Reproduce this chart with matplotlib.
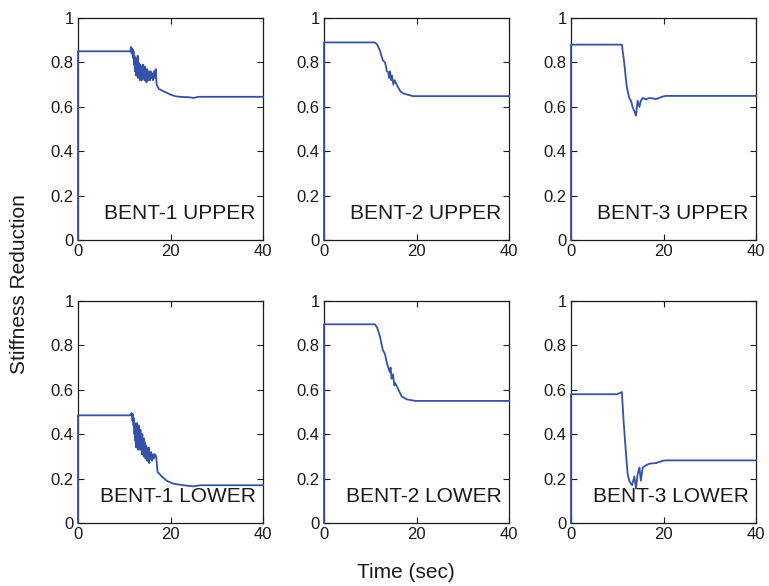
import matplotlib
matplotlib.use("Agg")
import matplotlib.pyplot as plt

plt.rcParams['font.family'] = ['Liberation Sans', 'DejaVu Sans']

# ---- data ----
t_b1u = [0, 0, 11.3, 11.5, 11.6, 11.8, 11.9, 12.0, 12.1, 12.2, 12.3, 12.4, 12.5, 12.6, 12.7, 12.8,
         12.9, 13.0, 13.1, 13.2, 13.3, 13.4, 13.5, 13.6, 13.7, 13.8, 13.9, 14.0, 14.1, 14.2, 14.3,
         14.4, 14.5, 14.6, 14.7, 14.8, 14.9, 15.0, 15.1, 15.2, 15.3, 15.4, 15.5, 15.6, 15.7, 15.8,
         15.9, 16.0, 16.2, 16.4, 16.6, 16.8, 17.0, 17.5, 18, 19, 20, 21, 22, 24, 25, 26, 40]
v_b1u = [0, 0.85, 0.85, 0.87, 0.84, 0.86, 0.82, 0.85, 0.79, 0.83, 0.76, 0.82, 0.78, 0.74, 0.81,
         0.76, 0.83, 0.73, 0.80, 0.75, 0.78, 0.72, 0.79, 0.74, 0.77, 0.72, 0.78, 0.73, 0.79, 0.74,
         0.76, 0.72, 0.78, 0.73, 0.75, 0.71, 0.77, 0.73, 0.75, 0.72, 0.76, 0.73, 0.75, 0.72, 0.76,
         0.73, 0.74, 0.75, 0.72, 0.76, 0.73, 0.77, 0.70, 0.68, 0.675, 0.665, 0.655, 0.648, 0.645,
         0.643, 0.640, 0.645, 0.645]

t_b2u = [0, 0, 11.0, 11.5, 12.1, 12.7, 13.2, 13.6, 13.9, 14.1, 14.3, 14.5, 14.7, 15.0, 15.3, 15.7,
         16.5, 17.2, 18.0, 19.3, 40]
v_b2u = [0, 0.89, 0.89, 0.88, 0.853, 0.81, 0.80, 0.76, 0.755, 0.73, 0.76, 0.72, 0.74, 0.70, 0.72,
         0.70, 0.67, 0.66, 0.655, 0.648, 0.648]

t_b3u = [0, 0, 11.0, 11.5, 12.0, 12.25, 12.6, 12.97, 13.3, 13.7, 14.05, 14.4, 14.8, 15.1, 15.5, 16.2,
         16.9, 18.4, 19.8, 20.5, 40]
v_b3u = [0, 0.88, 0.88, 0.80, 0.70, 0.67, 0.64, 0.627, 0.60, 0.58, 0.56, 0.627, 0.60, 0.627, 0.64,
         0.633, 0.64, 0.635, 0.646, 0.649, 0.649]

t_b1l = [0, 0, 11.3, 11.6, 11.8, 11.9, 12.0, 12.1, 12.2, 12.3, 12.4, 12.5, 12.6, 12.7, 12.8, 12.9,
         13.0, 13.1, 13.2, 13.3, 13.4, 13.5, 13.6, 13.7, 13.8, 13.9, 14.0, 14.1, 14.2, 14.3, 14.4,
         14.5, 14.6, 14.7, 14.8, 14.9, 15.0, 15.1, 15.2, 15.3, 15.4, 15.5, 15.6, 15.8, 16.0, 16.2,
         16.4, 16.6, 16.9, 17.2, 18.1, 19.2, 20.6, 22.8, 25.0, 26.4, 40]
v_b1l = [0, 0.485, 0.485, 0.495, 0.46, 0.49, 0.44, 0.47, 0.40, 0.45, 0.37, 0.43, 0.34, 0.45, 0.38,
         0.42, 0.33, 0.44, 0.36, 0.40, 0.33, 0.42, 0.35, 0.38, 0.31, 0.40, 0.34, 0.37, 0.30, 0.38,
         0.32, 0.36, 0.29, 0.35, 0.31, 0.34, 0.28, 0.33, 0.30, 0.34, 0.27, 0.31, 0.29, 0.32, 0.28,
         0.31, 0.29, 0.31, 0.30, 0.23, 0.21, 0.19, 0.177, 0.17, 0.165, 0.17, 0.17]

t_b2l = [0, 0, 11.0, 11.5, 12.1, 12.7, 13.2, 13.6, 13.9, 14.2, 14.4, 14.6, 14.9, 15.2, 15.4, 16.1,
         16.8, 17.9, 19.7, 40]
v_b2l = [0, 0.895, 0.895, 0.88, 0.84, 0.78, 0.76, 0.72, 0.70, 0.68, 0.70, 0.65, 0.67, 0.62, 0.63,
         0.60, 0.57, 0.557, 0.55, 0.55]

t_b3l = [0, 0, 10.0, 11.0, 11.4, 11.9, 12.25, 12.6, 13.2, 13.7, 14.05, 14.4, 14.8, 15.1, 15.5, 16.2,
         16.9, 18.4, 19.8, 20.5, 40]
v_b3l = [0, 0.58, 0.58, 0.59, 0.45, 0.31, 0.22, 0.19, 0.17, 0.21, 0.155, 0.22, 0.25, 0.19, 0.25,
         0.26, 0.267, 0.27, 0.28, 0.282, 0.282]

panel_labels = ['BENT-1 UPPER', 'BENT-2 UPPER', 'BENT-3 UPPER',
                'BENT-1 LOWER', 'BENT-2 LOWER', 'BENT-3 LOWER']
series = [(t_b1u, v_b1u), (t_b2u, v_b2u), (t_b3u, v_b3u),
          (t_b1l, v_b1l), (t_b2l, v_b2l), (t_b3l, v_b3l)]
xticks = [0, 20, 40]
yticks = [0, 0.2, 0.4, 0.6, 0.8, 1]
ytick_labels = ['0', '0.2', '0.4', '0.6', '0.8', '1']

# ---- layout ----
W, H = 769, 586
fig = plt.figure(figsize=(W / 100, H / 100), dpi=100)
lefts = [78, 324, 571]
pw = 185
rows = [(18, 240), (301, 523)]
line_color = '#3552A8'

for i, (t, v) in enumerate(series):
    r, c = divmod(i, 3)
    top, bot = rows[r]
    ax = fig.add_axes([lefts[c] / W, 1 - bot / H, pw / W, (bot - top) / H])
    ax.plot(t, v, color=line_color, lw=1.3, clip_on=False, zorder=3)
    ax.set_xlim(0, 40)
    ax.set_ylim(0, 1)
    ax.set_xticks(xticks)
    ax.set_xticklabels([str(x) for x in xticks])
    ax.set_yticks(yticks)
    ax.set_yticklabels(ytick_labels)
    ax.tick_params(direction='in', top=True, right=True, length=4, width=0.8,
                   labelsize=12, pad=3, colors='#1a1a1a')
    for s in ax.spines.values():
        s.set_linewidth(0.9)
        s.set_color('#1a1a1a')
    ax.text(0.96, 0.075, panel_labels[i], transform=ax.transAxes, ha='right', va='bottom',
            fontsize=15, color='#1a1a1a')

fig.text(20 / W, 1 - 284 / H, 'Stiffness Reduction', rotation=90, ha='center', va='center',
         fontsize=15, color='#1a1a1a')
fig.text(406 / W, 1 - 573 / H, 'Time (sec)', ha='center', va='center', fontsize=15, color='#1a1a1a')

fig.savefig('out.png', dpi=100)
